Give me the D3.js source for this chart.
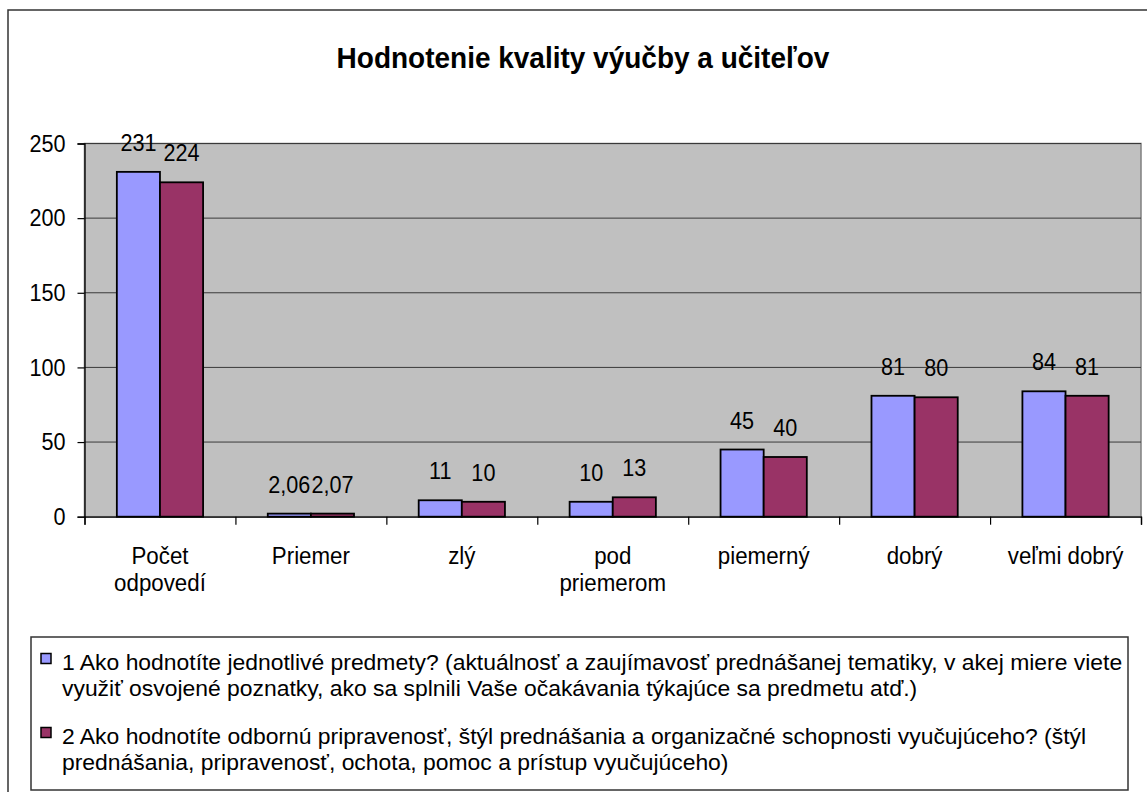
<!DOCTYPE html>
<html>
<head>
<meta charset="utf-8">
<script src="https://cdn.jsdelivr.net/npm/d3@7"></script>
<style>
  html, body { margin: 0; padding: 0; background: #fff; }
  svg { display: block; font-family: "Liberation Sans", Arial, sans-serif; }
</style>
</head>
<body>
<svg id="chart" width="1147" height="792"></svg>
<script>
// ---- data ----
const title = "Hodnotenie kvality výučby a učiteľov";
const categories = ["Počet odpovedí", "Priemer", "zlý", "pod priemerom", "piemerný", "dobrý", "veľmi dobrý"];
const categoryLines = [["Počet", "odpovedí"], ["Priemer"], ["zlý"], ["pod", "priemerom"], ["piemerný"], ["dobrý"], ["veľmi dobrý"]];
const seriesNames = ["s1", "s2"];
const series1 = [231, 2.06, 11, 10, 45, 81, 84];
const series2 = [224, 2.07, 10, 13, 40, 80, 81];
const yTicks = [0, 50, 100, 150, 200, 250];
const legendLines = [
  ["1 Ako hodnotíte jednotlivé predmety? (aktuálnosť a zaujímavosť prednášanej tematiky, v akej miere viete",
   "využiť osvojené poznatky, ako sa splnili Vaše očakávania týkajúce sa predmetu atď.)"],
  ["2 Ako hodnotíte odbornú pripravenosť, štýl prednášania a organizačné schopnosti vyučujúceho? (štýl",
   "prednášania, pripravenosť, ochota, pomoc a prístup vyučujúceho)"]
];
const colors = ["#9999FF", "#993366"];

// ---- layout ----
const svg = d3.select("#chart");
const plot = { left: 84.5, right: 1141, top: 143.5, bottom: 516.7 };

// helper: draw text horizontally condensed
function condensed(parent, x, y, str, size, sx, anchor, weight) {
  const g = parent.append("g").attr("transform", `translate(${x},${y}) scale(${sx},1)`);
  return g.append("text").attr("x", 0).attr("y", 0).attr("font-size", size)
    .attr("text-anchor", anchor || "start").attr("font-weight", weight || "normal")
    .attr("fill", "#000").text(str);
}

// outer border
svg.append("rect").attr("x", 8).attr("y", 10).attr("width", 1300).attr("height", 1000)
  .attr("fill", "#fff").attr("stroke", "#333").attr("stroke-width", 1.5);

// title (fit to reference width)
const tt = condensed(svg, 583, 68, title, 30, 1, "middle", "bold");
{ const w = tt.node().getComputedTextLength(); d3.select(tt.node().parentNode)
    .attr("transform", `translate(583,68) scale(${493 / w},1)`); }

// scales
const x0 = d3.scaleBand().domain(categories).range([plot.left, plot.right]).padding(0);
const W = x0.bandwidth();
const x1 = d3.scaleBand().domain(seriesNames).range([W * 0.75 / 3.5, W * 2.75 / 3.5]).padding(0);
const y = d3.scaleLinear().domain([0, 250]).range([plot.bottom, plot.top]);
const xb = d3.scaleLinear().domain([0, categories.length]).range([plot.left, plot.right]);

// plot background
svg.append("rect").attr("x", plot.left).attr("y", plot.top)
  .attr("width", plot.right - plot.left).attr("height", plot.bottom - plot.top)
  .attr("fill", "#C0C0C0").attr("stroke", "#808080").attr("stroke-width", 1.5);

// gridlines
svg.append("g").selectAll("line").data(yTicks.filter(d => d > 0)).join("line")
  .attr("x1", plot.left).attr("x2", plot.right)
  .attr("y1", d => y(d)).attr("y2", d => y(d))
  .attr("stroke", "#3a3a3a").attr("stroke-width", 1);

// y axis
const yAxis = svg.append("g").attr("transform", `translate(${plot.left},0)`)
  .call(d3.axisLeft(y).tickValues(yTicks).tickSize(7).tickPadding(12).tickFormat(d3.format("d")));
yAxis.select(".domain").attr("stroke", "#000").attr("stroke-width", 1.3);
yAxis.selectAll(".tick line").attr("stroke", "#000").attr("stroke-width", 1.2);
yAxis.selectAll(".tick text").attr("font-size", 24).attr("font-family", "Liberation Sans, Arial, sans-serif")
  .attr("fill", "#000")
  .attr("transform", function() { const x = +this.getAttribute("x"); return `translate(${x},0) scale(0.9,1) translate(${-x},0)`; });

// bars
const data = categories.map((c, i) => ({ c, vals: [series1[i], series2[i]] }));
const groups = svg.append("g").selectAll("g").data(data).join("g")
  .attr("transform", d => `translate(${x0(d.c)},0)`);
groups.selectAll("rect").data(d => d.vals.map((v, j) => ({ v, s: seriesNames[j], j }))).join("rect")
  .attr("x", d => x1(d.s)).attr("width", x1.bandwidth())
  .attr("y", d => y(d.v)).attr("height", d => y(0) - y(d.v))
  .attr("fill", d => colors[d.j]).attr("stroke", "#000").attr("stroke-width", 1.8);

// value labels
const fmt = v => (Number.isInteger(v) ? String(v) : v.toFixed(2).replace(".", ","));
groups.each(function(d) {
  const g = d3.select(this);
  d.vals.forEach((v, j) => {
    condensed(g, x1(seriesNames[j]) + x1.bandwidth() / 2, y(v) - 21, fmt(v), 24, 0.9, "middle");
  });
});

// x axis
const xAxis = svg.append("g").attr("transform", `translate(0,${plot.bottom})`)
  .call(d3.axisBottom(xb).tickValues(d3.range(categories.length + 1)).tickSize(8).tickFormat(""));
xAxis.select(".domain").attr("stroke", "#000").attr("stroke-width", 1.3);
xAxis.selectAll(".tick line").attr("stroke", "#000").attr("stroke-width", 1.2);

// category labels
categories.forEach((c, i) => {
  categoryLines[i].forEach((ln, k) => {
    condensed(svg, x0(c) + W / 2, 564 + k * 27, ln, 24, 0.93, "middle");
  });
});

// legend
const lg = svg.append("g");
lg.append("rect").attr("x", 31).attr("y", 637).attr("width", 1097).attr("height", 153)
  .attr("fill", "#fff").attr("stroke", "#333").attr("stroke-width", 1.5);
const baselines = [[669.5, 695.5], [743.5, 770]];
const legendFont = 22.5;
const probe = lg.append("text").attr("font-size", legendFont).text(legendLines[0][0]);
const sxL = 1061 / probe.node().getComputedTextLength();
probe.remove();
legendLines.forEach((lines, i) => {
  lg.append("rect").attr("x", 41).attr("y", baselines[i][0] - 16).attr("width", 10).attr("height", 10)
    .attr("fill", colors[i]).attr("stroke", "#000").attr("stroke-width", 1.5);
  lines.forEach((ln, k) => {
    condensed(lg, 62, baselines[i][k], ln, legendFont, sxL, "start");
  });
});
</script>
</body>
</html>
